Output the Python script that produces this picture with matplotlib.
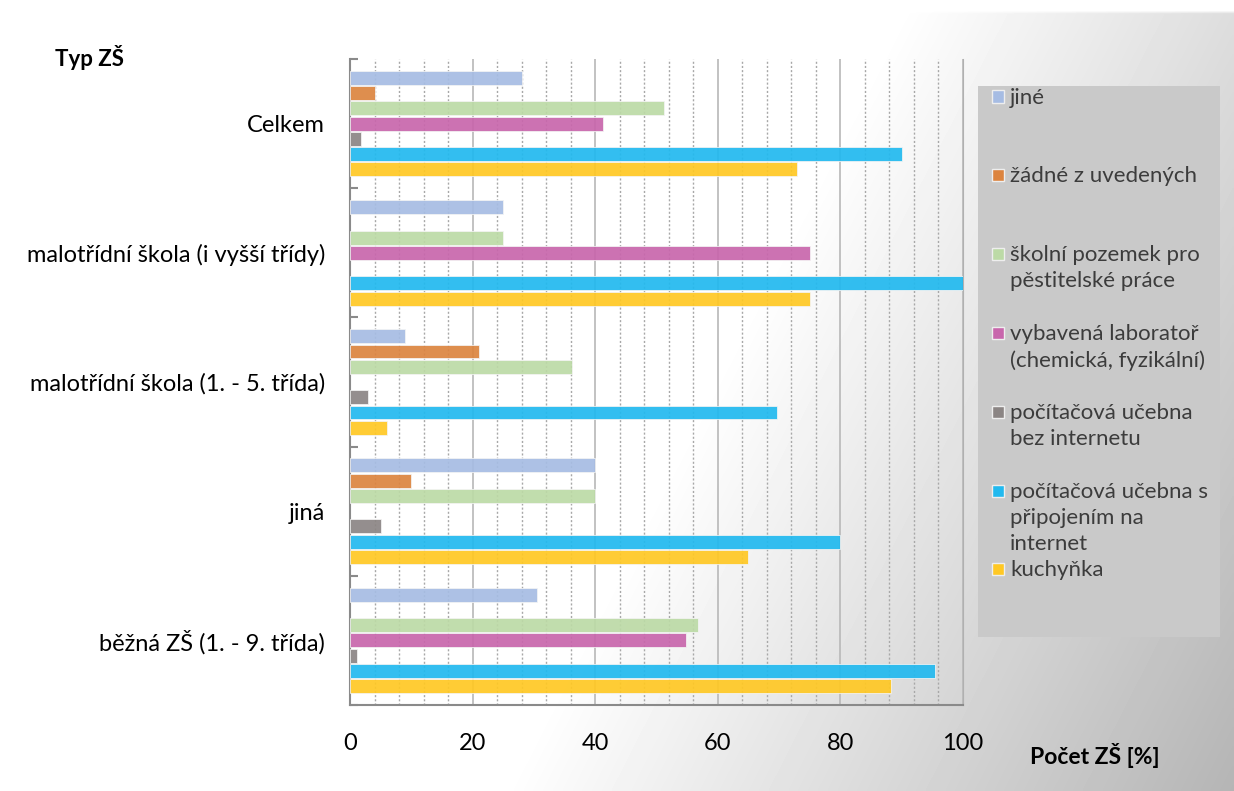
import numpy as np
import matplotlib
matplotlib.use("Agg")
import matplotlib.pyplot as plt
from matplotlib.patches import Rectangle
from matplotlib.ticker import MultipleLocator

plt.rcParams['font.family'] = ['Lato', 'DejaVu Sans']

# categories, bottom to top
categories = ['běžná ZŠ (1. - 9. třída)', 'jiná', 'malotřídní škola (1. - 5. třída)',
              'malotřídní škola (i vyšší třídy)', 'Celkem']

series_names = ['jiné', 'žádné z uvedených', 'školní pozemek pro\npěstitelské práce',
                'vybavená laboratoř\n(chemická, fyzikální)', 'počítačová učebna\nbez internetu',
                'počítačová učebna s\npřipojením na\ninternet', 'kuchyňka']
colors = ['#a6bce3', '#dc843f', '#bcdaa6', '#c866ac', '#8b8584', '#21b9ef', '#ffc824']

jine = [30.5, 40, 9, 25, 28]
zadne = [0, 10, 21, 0, 4]
pozemek = [56.8, 40, 36.2, 25, 51.3]
laborator = [54.8, 0, 0, 75, 41.3]
bez_internetu = [1.2, 5, 3, 0, 1.8]
s_internetem = [95.4, 80, 69.7, 100, 90]
kuchynka = [88.2, 65, 6, 75, 72.9]
values = [jine, zadne, pozemek, laborator, bez_internetu, s_internetem, kuchynka]

W, H = 1234, 791
fig = plt.figure(figsize=(W / 100, H / 100), dpi=100)

# background gradient
bg = fig.add_axes([0, 0, 1, 1])
xx, yy = np.meshgrid(np.linspace(0, 1, 400), np.linspace(0, 1, 260))
dark = np.clip(0.49 * xx + 0.16 * yy - 0.36, 0, None)
dark[yy < 11 / H] = 0
bg.imshow(1 - dark, cmap='gray', vmin=0, vmax=1, aspect='auto',
          extent=[0, 1, 1, 0], interpolation='bilinear')
bg.set_axis_off()

ax = fig.add_axes([350 / W, 1 - 705 / H, (963 - 350) / W, (705 - 59) / H])
ax.set_facecolor('none')

pitch = 0.118
height = 0.108
y = np.arange(len(categories))
for i, vals in enumerate(values):
    vals = np.array(vals, dtype=float)
    m = vals > 0
    ax.barh(y[m] + (3 - i) * pitch, vals[m], height=height, color=colors[i],
            alpha=0.92, edgecolor='#f4f4f4', linewidth=0.6, zorder=3)

ax.set_xlim(0, 100)
ax.set_ylim(-0.5, len(categories) - 0.5)
ax.xaxis.set_major_locator(MultipleLocator(20))
ax.xaxis.set_minor_locator(MultipleLocator(4))
ax.grid(axis='x', which='major', color='#b8b8b8', linewidth=1.2, zorder=1)
ax.grid(axis='x', which='minor', color='#a8a8a8', linewidth=1, linestyle=(0, (1.5, 1.5)), zorder=1)
ax.tick_params(axis='x', which='both', length=0, pad=20, labelsize=17)

ax.set_yticks(y)
ax.set_yticklabels(categories)
ax.set_yticks(np.arange(-0.5, len(categories)), minor=True)
ax.tick_params(axis='y', which='major', length=0, pad=18, labelsize=17)
ax.tick_params(axis='y', which='minor', direction='in', length=6, color='#8a8a8a', width=1.5)

ax.spines['top'].set_visible(False)
ax.spines['right'].set_color('#b0b0b0')
ax.spines['left'].set_color('#8a8a8a')
ax.spines['bottom'].set_color('#8a8a8a')
ax.spines['left'].set_linewidth(1.5)
ax.spines['bottom'].set_linewidth(1.5)

fig.text(55 / W, 1 - 58 / H, 'Typ ZŠ', fontsize=16, fontweight='bold', va='center', ha='left')
fig.text(1030 / W, 1 - 755 / H, 'Počet ZŠ [%]', fontsize=16.5, fontweight='bold', va='center', ha='left')

# legend box
fig.patches.append(Rectangle((978 / W, 1 - 637 / H), (1220 - 978) / W, (637 - 86) / H,
                             transform=fig.transFigure, facecolor='#c9c9c9', edgecolor='none', zorder=1))
for i, name in enumerate(series_names):
    yc = 96.5 + i * 78.8
    fig.patches.append(Rectangle((992 / W, 1 - (yc + 6) / H), 12 / W, 12 / H,
                                 transform=fig.transFigure, facecolor=colors[i],
                                 edgecolor='#eeeeee', linewidth=1, zorder=2))
    fig.text(1010 / W, 1 - (yc - 9) / H, name, fontsize=16, color='#3c3c3c',
             va='top', ha='left', linespacing=1.38, zorder=3)

fig.savefig('out.png', dpi=100)
